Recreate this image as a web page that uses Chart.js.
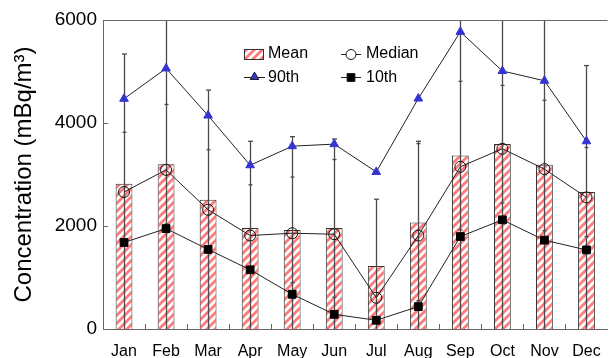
<!DOCTYPE html>
<html>
<head>
<meta charset="utf-8">
<script src="https://cdn.jsdelivr.net/npm/chart.js@4.4.0/dist/chart.umd.min.js"></script>
<style>
html, body { margin: 0; padding: 0; background: #fff; }
#wrap { width: 614px; height: 358px; }
</style>
</head>
<body>
<div id="wrap"><canvas id="chart"></canvas></div>
<script>
var months = ['Jan', 'Feb', 'Mar', 'Apr', 'May', 'Jun', 'Jul', 'Aug', 'Sep', 'Oct', 'Nov', 'Dec'];
var meanVals   = [2820, 3200, 2510, 1960, 1920, 1960, 1225, 2070, 3370, 3590, 3190, 2660];
var medianVals = [2660, 3090, 2315, 1815, 1860, 1840,  607, 1815, 3150, 3500, 3105, 2555];
var p90Vals    = [4470, 5060, 4145, 3180, 3550, 3590, 3050, 4475, 5770, 5010, 4820, 3645];
var p10Vals    = [1680, 1950, 1545, 1150,  675,  285,  170,  435, 1795, 2120, 1725, 1535];
// error bars: top cap, second tick, lower tick (null = none, >6000 runs off the top)
var errTop = [5340, 6500, 4640, 3645, 3735, 3690, 2520, 3645, 6500, 6500, 6500, 5115];
var errMid = [3820, 4360, 3480, 2800, 2950, 3290, null, 3600, 4810, 4730, 4440, 3525];
var errLow = [null, 2040, null, null,  900,  615, null,  550, 1925, 2445, 1910, 1795];
var yTicks = [0, 2000, 4000, 6000];

var FONT = '"Liberation Sans", Arial, sans-serif';
var canvas = document.getElementById('chart');

// white with red diagonal stripes
function makeStripes() {
	var c = document.createElement('canvas');
	c.width = 8; c.height = 8;
	var g = c.getContext('2d');
	g.fillStyle = '#fff';
	g.fillRect(0, 0, 8, 8);
	g.strokeStyle = '#ff7a7a';
	g.lineWidth = 2.8;
	g.beginPath();
	g.moveTo(-1, 9); g.lineTo(9, -1);
	g.moveTo(-1, 1); g.lineTo(1, -1);
	g.moveTo(7, 9); g.lineTo(9, 7);
	g.stroke();
	return canvas.getContext('2d').createPattern(c, 'repeat');
}
var stripes = makeStripes();

function cap(ctx, x, y, w) {
	ctx.beginPath();
	ctx.moveTo(x - w, y);
	ctx.lineTo(x + w, y);
	ctx.stroke();
}

var errorBars = {
	id: 'errorBars',
	afterDatasetDraw: function(chart, args) {
		if (args.index !== 0) return;
		var ctx = chart.ctx, xs = chart.scales.x, ys = chart.scales.y, area = chart.chartArea;
		ctx.save();
		ctx.strokeStyle = '#4a4a4a';
		ctx.lineWidth = 1.3;
		for (var i = 0; i < months.length; i++) {
			var x = Math.round(xs.getPixelForValue(i)) + 0.5;
			var yb = ys.getPixelForValue(0);
			var yt = Math.max(ys.getPixelForValue(errTop[i]), area.top);
			ctx.beginPath();
			ctx.moveTo(x, yb);
			ctx.lineTo(x, yt);
			ctx.stroke();
			if (errTop[i] <= 6000) cap(ctx, x, ys.getPixelForValue(errTop[i]), 2.5);
			if (errMid[i] !== null) cap(ctx, x, ys.getPixelForValue(errMid[i]), 2);
			if (errLow[i] !== null) cap(ctx, x, ys.getPixelForValue(errLow[i]), 2);
		}
		ctx.restore();
	}
};

var frame = {
	id: 'frame',
	afterDraw: function(chart) {
		var ctx = chart.ctx, a = chart.chartArea, xs = chart.scales.x, ys = chart.scales.y;
		ctx.save();
		ctx.strokeStyle = '#666';
		ctx.lineWidth = 1;
		ctx.beginPath();
		ctx.moveTo(a.left, Math.round(a.top) + 0.5);
		ctx.lineTo(a.right, Math.round(a.top) + 0.5);
		ctx.stroke();
		// inward ticks
		ctx.beginPath();
		for (var i = 1; i < months.length; i++) {
			var xb = Math.round((xs.getPixelForValue(i - 1) + xs.getPixelForValue(i)) / 2) + 0.5;
			ctx.moveTo(xb, a.bottom);
			ctx.lineTo(xb, a.bottom - 5);
		}
		yTicks.forEach(function(v) {
			var y = Math.round(ys.getPixelForValue(v)) + 0.5;
			ctx.moveTo(a.left, y);
			ctx.lineTo(a.left + 5, y);
		});
		ctx.stroke();

		// legend
		ctx.font = '16px ' + FONT;
		ctx.textBaseline = 'middle';
		ctx.fillStyle = stripes;
		ctx.fillRect(244, 49, 19, 10);
		ctx.strokeStyle = '#333';
		ctx.strokeRect(244.5, 49.5, 19, 10);
		ctx.strokeStyle = '#222';
		ctx.beginPath();
		ctx.moveTo(244, 77.5); ctx.lineTo(265, 77.5);
		ctx.moveTo(341, 54.5); ctx.lineTo(361, 54.5);
		ctx.moveTo(341, 77.5); ctx.lineTo(361, 77.5);
		ctx.stroke();
		ctx.fillStyle = '#3434d0';
		Chart.helpers.drawPoint(ctx, {pointStyle: 'triangle', radius: 5, borderWidth: 1}, 254.5, 77);
		ctx.fillStyle = '#fff';
		ctx.strokeStyle = '#111';
		Chart.helpers.drawPoint(ctx, {pointStyle: 'circle', radius: 5, borderWidth: 1}, 351, 54.5);
		ctx.fillStyle = '#000';
		Chart.helpers.drawPoint(ctx, {pointStyle: 'rect', radius: 5.5, borderWidth: 1}, 351, 77.5);
		ctx.fillStyle = '#000';
		ctx.fillText('Mean', 268, 54);
		ctx.fillText('90th', 268, 78);
		ctx.fillText('Median', 366, 54);
		ctx.fillText('10th', 366, 78);
		ctx.restore();
	}
};

function lineSet(label, data, style, fill, border, radius) {
	return {
		type: 'line',
		label: label,
		data: data,
		borderColor: '#222',
		borderWidth: 1,
		pointStyle: style,
		pointRadius: radius,
		pointBackgroundColor: fill,
		pointBorderColor: border,
		pointBorderWidth: 1,
		fill: false,
		tension: 0
	};
}

new Chart(canvas, {
	type: 'bar',
	data: {
		labels: months,
		datasets: [
			{
				label: 'Mean',
				data: meanVals,
				backgroundColor: stripes,
				borderColor: '#333',
				borderWidth: 1,
				barPercentage: 0.4,
				categoryPercentage: 1,
				order: 10
			},
			lineSet('Median', medianVals, 'circle', 'rgba(0,0,0,0)', '#111', 5.5),
			lineSet('90th', p90Vals, 'triangle', '#3434d0', '#3434d0', 5),
			lineSet('10th', p10Vals, 'rect', '#000', '#000', 5.5)
		]
	},
	options: {
		responsive: true,
		maintainAspectRatio: false,
		animation: false,
		layout: { padding: { top: 20, right: 0, bottom: 0, left: 0 } },
		plugins: {
			legend: { display: false },
			tooltip: { enabled: false }
		},
		scales: {
			x: {
				offset: true,
				grid: { display: false, drawTicks: false },
				border: { color: '#666', width: 1 },
				ticks: { color: '#000', font: { family: FONT, size: 16 }, padding: 13, maxRotation: 0 },
				afterFit: function(scale) { scale.height = 29; }
			},
			y: {
				min: 0,
				max: 6000,
				afterBuildTicks: function(scale) {
					scale.ticks = yTicks.map(function(v) { return { value: v }; });
				},
				grid: { display: false, drawTicks: false },
				border: { color: '#666', width: 1 },
				ticks: {
					color: '#000',
					font: { family: FONT, size: 19 },
					padding: 6,
					callback: function(v) { return String(v); }
				},
				title: {
					display: true,
					text: 'Concentration (mBq/m³)',
					color: '#000',
					font: { family: FONT, size: 24 },
					padding: { top: 10, bottom: 0 }
				},
				afterFit: function(scale) { scale.width = 103; }
			}
		}
	},
	plugins: [errorBars, frame]
});
</script>
</body>
</html>
